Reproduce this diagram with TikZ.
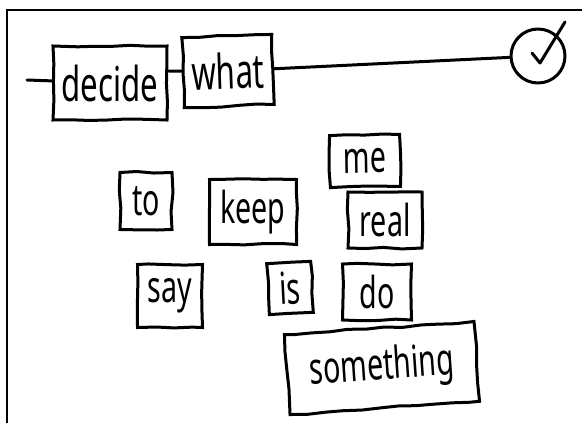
\documentclass[tikz,border=0pt]{standalone}
\usepackage{fontspec}
\newfontfamily\handfont[FakeStretch=0.65]{Noto Sans}
\usetikzlibrary{decorations.pathmorphing,calc}
\tikzset{
  word/.style={draw,line width=1.5pt,inner sep=0pt,align=center,
               font=\handfont\fontsize{22}{22}\selectfont,
               decorate,decoration={random steps,segment length=9pt,amplitude=0.5pt}},
  bigword/.style={word,font=\handfont\fontsize{24}{24}\selectfont},
  inkline/.style={line width=1.5pt,line cap=round,line join=round}
}

\begin{document}
\begin{tikzpicture}[x=0.5pt,y=-0.5pt]
  \pgfmathsetseed{7}
  \useasboundingbox (0,0) rectangle (582,423);
  % frame
  \draw[line width=1pt] (7,423) -- (7,10) -- (582,10);
  % sentence line
  \coordinate (start) at (27,80);
  \node[bigword,minimum width=57pt,minimum height=37pt] (decide) at (110,83) {decide};
  \node[bigword,minimum width=45pt,minimum height=35pt,rotate=2] (what) at (228,71) {what};
  \node[circle,draw,inkline,minimum size=27pt,inner sep=0pt] (done) at (538,56) {};
  \draw[inkline] (start) -- (decide);
  \draw[inkline] (decide.east |- what) -- (what);
  \draw[inkline] (what) -- (done);
  \draw[inkline] ($(done)+(-6,-3)$) -- ($(done)+(2,7)$) -- ($(done)+(27,-34)$);
  % loose words
  \node[word,minimum width=26pt,minimum height=28.5pt] (to) at (146,201) {to};
  \node[word,minimum width=43.5pt,minimum height=32.5pt] (keep) at (253,212) {keep};
  \node[word,minimum width=35pt,minimum height=26pt,rotate=1] (me) at (365,161) {me};
  \node[word,minimum width=37pt,minimum height=28pt] (real) at (385,220) {real};
  \node[word,minimum width=32.5pt,minimum height=31.5pt] (say) at (170,296) {say};
  \node[word,minimum width=22pt,minimum height=25.5pt,rotate=3] (is) at (290,288) {is};
  \node[word,minimum width=34.5pt,minimum height=28pt] (do) at (377,292) {do};
  \node[word,minimum width=95pt,minimum height=40pt,rotate=4] (something) at (382,368) {something};
\end{tikzpicture}
\end{document}
